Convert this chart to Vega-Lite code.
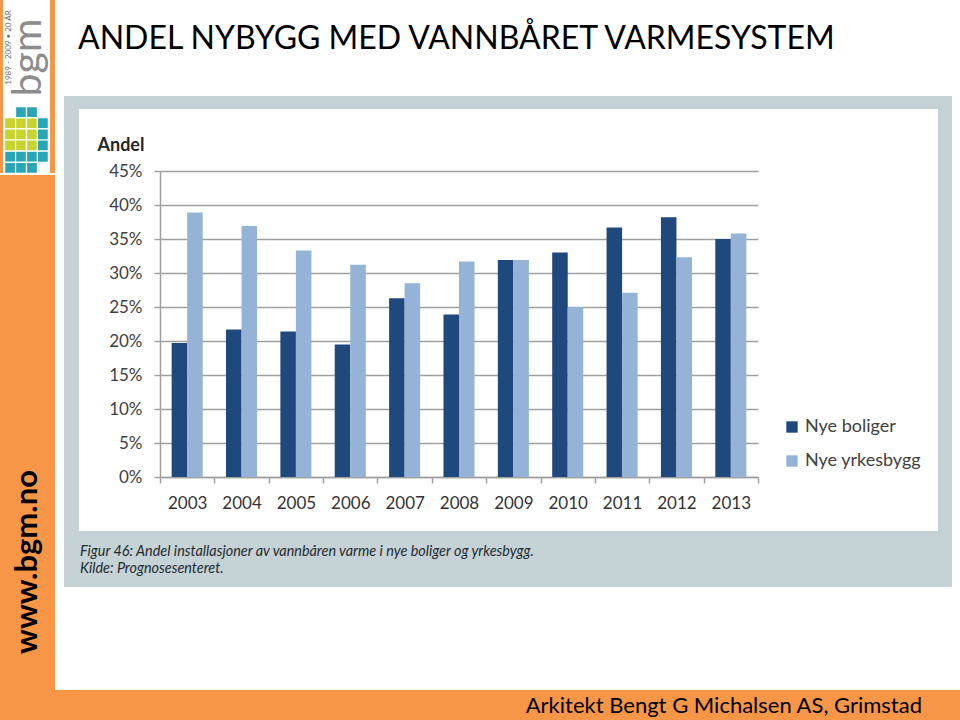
{
  "$schema": "https://vega.github.io/schema/vega-lite/v6.json",
  "padding": 0,
  "background": "white",
  "config": {"view": {"stroke": null}, "font": "Lato", "title": {"font": "Lato"}},
  "datasets": {
    "andel": [
      {"year": "2003", "serie": "Nye boliger", "andel": 19.7},
      {"year": "2003", "serie": "Nye yrkesbygg", "andel": 38.9},
      {"year": "2004", "serie": "Nye boliger", "andel": 21.7},
      {"year": "2004", "serie": "Nye yrkesbygg", "andel": 36.9},
      {"year": "2005", "serie": "Nye boliger", "andel": 21.4},
      {"year": "2005", "serie": "Nye yrkesbygg", "andel": 33.3},
      {"year": "2006", "serie": "Nye boliger", "andel": 19.5},
      {"year": "2006", "serie": "Nye yrkesbygg", "andel": 31.2},
      {"year": "2007", "serie": "Nye boliger", "andel": 26.3},
      {"year": "2007", "serie": "Nye yrkesbygg", "andel": 28.5},
      {"year": "2008", "serie": "Nye boliger", "andel": 23.9},
      {"year": "2008", "serie": "Nye yrkesbygg", "andel": 31.7},
      {"year": "2009", "serie": "Nye boliger", "andel": 31.9},
      {"year": "2009", "serie": "Nye yrkesbygg", "andel": 31.9},
      {"year": "2010", "serie": "Nye boliger", "andel": 33.0},
      {"year": "2010", "serie": "Nye yrkesbygg", "andel": 25.0},
      {"year": "2011", "serie": "Nye boliger", "andel": 36.7},
      {"year": "2011", "serie": "Nye yrkesbygg", "andel": 27.1},
      {"year": "2012", "serie": "Nye boliger", "andel": 38.2},
      {"year": "2012", "serie": "Nye yrkesbygg", "andel": 32.3},
      {"year": "2013", "serie": "Nye boliger", "andel": 35.0},
      {"year": "2013", "serie": "Nye yrkesbygg", "andel": 35.8}
    ],
    "blank": [{"k": 1}],
    "url": [{"t": "www.bgm.no"}],
    "logo": [{"t": "bgm"}],
    "years": [{"t": "1989 - 2009 • 20 ÅR"}],
    "tilesY": [
      {"c": 0, "r": 1}, {"c": 1, "r": 1}, {"c": 2, "r": 1},
      {"c": 0, "r": 2}, {"c": 1, "r": 2}, {"c": 2, "r": 2},
      {"c": 0, "r": 3}, {"c": 1, "r": 3}, {"c": 2, "r": 3}
    ],
    "tilesT": [
      {"c": 1, "r": 0}, {"c": 2, "r": 0},
      {"c": 3, "r": 1}, {"c": 3, "r": 2}, {"c": 3, "r": 3},
      {"c": 0, "r": 4}, {"c": 1, "r": 4}, {"c": 2, "r": 4}, {"c": 3, "r": 4},
      {"c": 0, "r": 5}, {"c": 1, "r": 5}, {"c": 2, "r": 5}
    ]
  },
  "spacing": 0,
  "resolve": {"scale": {"color": "independent"}, "legend": {"color": "independent"}},
  "vconcat": [
    {
      "spacing": 0,
      "resolve": {"scale": {"color": "independent"}, "legend": {"color": "independent"}},
      "hconcat": [
        {
          "spacing": 0,
          "vconcat": [
            {
              "spacing": 0,
              "hconcat": [
                {"width": 3, "height": 173, "data": {"name": "blank"}, "mark": {"type": "rect", "color": "#f79646"}, "encoding": {}},
                {
                  "spacing": 0,
                  "vconcat": [
                    {
                      "width": 47, "height": 105,
                      "data": {"name": "logo"},
                      "layer": [
                        {"mark": {"type": "rect", "color": "white"}, "encoding": {}},
                        {"mark": {"type": "text", "angle": 270, "fontSize": 41, "color": "#8c8c8c", "baseline": "middle", "dy": 2, "dx": -5}, "encoding": {"text": {"field": "t"}}},
                        {"data": {"name": "years"}, "mark": {"type": "text", "angle": 270, "fontSize": 8, "color": "#707070", "baseline": "middle", "dy": -18, "dx": 5}, "encoding": {"text": {"field": "t"}}}
                      ]
                    },
                    {
                      "width": 47, "height": 68,
                      "view": {"fill": "white", "stroke": null},
                      "layer": [
                        {
                          "data": {"name": "tilesY"},
                          "mark": {"type": "rect", "color": "#c8d42e", "stroke": "white", "strokeWidth": 1.2},
                          "encoding": {
                            "x": {"field": "c", "type": "ordinal", "axis": null, "scale": {"domain": [0, 1, 2, 3], "paddingInner": 0, "paddingOuter": 0.15}},
                            "y": {"field": "r", "type": "ordinal", "axis": null, "scale": {"domain": [0, 1, 2, 3, 4, 5], "paddingInner": 0, "paddingOuter": 0.05}}
                          }
                        },
                        {
                          "data": {"name": "tilesT"},
                          "mark": {"type": "rect", "color": "#29a6b6", "stroke": "white", "strokeWidth": 1.2},
                          "encoding": {
                            "x": {"field": "c", "type": "ordinal", "axis": null},
                            "y": {"field": "r", "type": "ordinal", "axis": null}
                          }
                        }
                      ]
                    }
                  ]
                },
                {"width": 5, "height": 173, "data": {"name": "blank"}, "mark": {"type": "rect", "color": "#f79646"}, "encoding": {}}
              ]
            },
            {"width": 55, "height": 259, "data": {"name": "blank"}, "mark": {"type": "rect", "color": "#f79646"}, "encoding": {}},
            {
              "width": 55, "height": 256,
              "data": {"name": "url"},
              "layer": [
                {"mark": {"type": "rect", "color": "#f79646"}, "encoding": {}},
                {"mark": {"type": "text", "angle": 270, "fontSize": 31, "fontWeight": "bold", "color": "#000000", "baseline": "middle"}, "encoding": {"text": {"field": "t"}}}
              ]
            }
          ]
        },
        {
          "spacing": 0,
          "resolve": {"scale": {"color": "independent"}, "legend": {"color": "independent"}},
          "vconcat": [
            {
              "width": 905, "height": 96,
              "data": {"name": "blank"},
              "title": {"text": "ANDEL NYBYGG MED VANNBÅRET VARMESYSTEM", "orient": "top", "anchor": "start", "frame": "group", "offset": -81, "baseline": "alphabetic", "dx": 23, "fontSize": 32, "fontWeight": "normal", "color": "#000000"},
              "mark": {"type": "rect", "color": "white"},
              "encoding": {}
            },
            {
              "spacing": 0,
              "resolve": {"scale": {"color": "independent"}, "legend": {"color": "independent"}},
              "hconcat": [
                {"width": 9, "height": 491, "data": {"name": "blank"}, "mark": {"type": "rect", "color": "white"}, "encoding": {}},
                {
                  "spacing": 0,
                  "resolve": {"scale": {"color": "independent"}, "legend": {"color": "independent"}},
                  "vconcat": [
                    {"width": 888, "height": 13, "data": {"name": "blank"}, "mark": {"type": "rect", "color": "#c6d3d6"}, "encoding": {}},
                    {
                      "spacing": 0,
                      "resolve": {"scale": {"color": "independent"}, "legend": {"color": "independent"}},
                      "hconcat": [
                        {"width": 15, "height": 422, "data": {"name": "blank"}, "mark": {"type": "rect", "color": "#c6d3d6"}, "encoding": {}},
                        {
                          "width": 859, "height": 422,
                          "view": {"fill": "white", "stroke": null},
                          "data": {"name": "andel"},
                          "mark": {"type": "bar"},
                          "encoding": {
                            "x": {
                              "field": "year", "type": "nominal",
                              "scale": {"range": [81, 679], "paddingInner": 0, "paddingOuter": 0},
                              "axis": {"orient": "bottom", "offset": -54, "title": null, "labelAngle": 0, "tickBand": "extent", "tickSize": 6, "tickColor": "#a0a0a0", "tickWidth": 1.5, "domainColor": "#a0a0a0", "domainWidth": 1.5, "labelPadding": 12, "labelFontSize": 17, "labelColor": "#333333", "grid": false}
                            },
                            "xOffset": {"field": "serie", "scale": {"domain": ["Nye boliger", "Nye yrkesbygg"], "paddingInner": 0, "paddingOuter": 0.75}},
                            "y": {
                              "field": "andel", "type": "quantitative",
                              "scale": {"domain": [0, 45], "range": [368, 62], "nice": false},
                              "axis": {"orient": "left", "offset": -81, "values": [0, 5, 10, 15, 20, 25, 30, 35, 40, 45], "labelExpr": "datum.value + '%'", "tickSize": 6, "tickColor": "#a0a0a0", "tickWidth": 1.5, "domainColor": "#a0a0a0", "domainWidth": 1.5, "grid": true, "gridColor": "#a0a0a0", "gridWidth": 1.5, "labelPadding": 12, "labelFontSize": 17, "labelColor": "#404040", "title": "Andel", "titleAngle": 0, "titleAlign": "left", "titleBaseline": "middle", "titleX": -63, "titleY": 36, "titleFontSize": 18, "titleFontWeight": "bold", "titleColor": "#262626"}
                            },
                            "color": {
                              "field": "serie", "type": "nominal",
                              "scale": {"domain": ["Nye boliger", "Nye yrkesbygg"], "range": ["#1f497d", "#95b3d7"]},
                              "legend": {"orient": "none", "legendX": 704, "legendY": 309, "title": null, "symbolType": "square", "symbolSize": 130, "symbolStrokeWidth": 0, "labelFontSize": 18, "labelColor": "#404040", "rowPadding": 16, "labelOffset": 4, "padding": 0}
                            }
                          }
                        },
                        {"width": 14, "height": 422, "data": {"name": "blank"}, "mark": {"type": "rect", "color": "#c6d3d6"}, "encoding": {}}
                      ]
                    },
                    {
                      "width": 888, "height": 56,
                      "data": {"name": "blank"},
                      "title": {"text": ["Figur 46: Andel installasjoner av vannbåren varme i nye boliger og yrkesbygg.", "Kilde: Prognosesenteret."], "orient": "top", "anchor": "start", "frame": "group", "offset": -56, "baseline": "alphabetic", "dx": 16, "fontSize": 14.4, "fontStyle": "italic", "fontWeight": "normal", "lineHeight": 17, "color": "#1f2a30"},
                      "mark": {"type": "rect", "color": "#c6d3d6"},
                      "encoding": {}
                    }
                  ]
                },
                {"width": 8, "height": 491, "data": {"name": "blank"}, "mark": {"type": "rect", "color": "white"}, "encoding": {}}
              ]
            },
            {"width": 905, "height": 101, "data": {"name": "blank"}, "mark": {"type": "rect", "color": "white"}, "encoding": {}}
          ]
        }
      ]
    },
    {
      "width": 960, "height": 32,
      "data": {"name": "blank"},
      "title": {"text": "Arkitekt Bengt G Michalsen AS, Grimstad", "orient": "top", "anchor": "end", "frame": "group", "offset": -45, "baseline": "alphabetic", "dx": -38, "fontSize": 22, "fontWeight": "normal", "color": "#000000"},
      "mark": {"type": "rect", "color": "#f79646"},
      "encoding": {}
    }
  ]
}
